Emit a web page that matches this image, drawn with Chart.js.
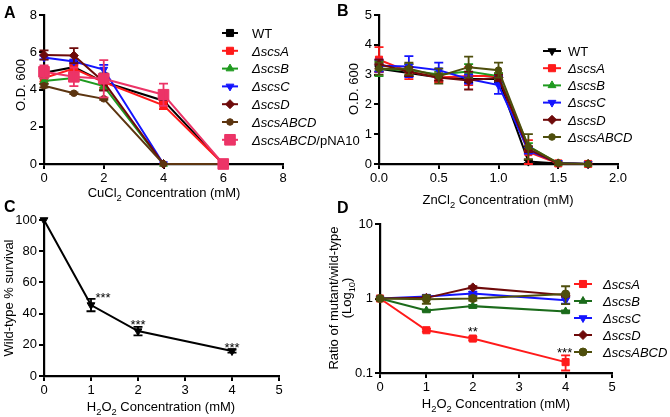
<!DOCTYPE html>
<html><head><meta charset="utf-8">
<script src="https://cdn.jsdelivr.net/npm/chart.js@4/dist/chart.umd.min.js"></script>
<style>
html,body{margin:0;padding:0;background:#fff;}
#wrap{position:relative;width:670px;height:417px;overflow:hidden;background:#fff;}
canvas{position:absolute;left:0;top:0;}
</style></head><body>
<div id="wrap">
<canvas id="cA" width="670" height="417"></canvas>
<canvas id="cB" width="670" height="417"></canvas>
<canvas id="cC" width="670" height="417"></canvas>
<canvas id="cD" width="670" height="417"></canvas>
</div>
<script>
const FONT = '"Liberation Sans", Arial, Helvetica, sans-serif';

// ---------- Panel A : CuCl2 ----------
const cuConc = [0, 1, 2, 4, 6];
const cuXTicks = [0, 2, 4, 6, 8];
const cuYTicks = [0, 2, 4, 6, 8];
const cuLabels = ['WT', 'ΔscsA', 'ΔscsB', 'ΔscsC', 'ΔscsD', 'ΔscsABCD', 'ΔscsABCD/pNA10'];
const cuWT      = [4.9, 5.2, 4.4, 3.4, 0];
const cuWTErr   = [0.2, 0.3, 0.45, 0.15, 0];
const cuA       = [4.62, 5.12, 4.4, 3.15, 0];
const cuAErr    = [0.2, 0.2, 0.3, 0.2, 0];
const cuB       = [4.45, 4.62, 4.18, 0, 0];
const cuBErr    = [0.15, 0.1, 0.2, 0, 0];
const cuC       = [5.72, 5.5, 5.07, 0, 0];
const cuCErr    = [0.1, 0.1, 0.25, 0, 0];
const cuD       = [5.85, 5.82, 4.4, 0, 0];
const cuDErr    = [0.25, 0.4, 0.45, 0, 0];
const cuABCD    = [4.2, 3.8, 3.5, 0, 0];
const cuABCDErr = [0.1, 0.05, 0.05, 0, 0];
const cuComp    = [4.95, 4.68, 4.58, 3.72, 0];
const cuCompErr = [0.35, 0.5, 1.0, 0.6, 0];

// ---------- Panel B : ZnCl2 ----------
const znConc = [0, 0.25, 0.5, 0.75, 1.0, 1.25, 1.5, 1.75];
const znXTicks = [0, 0.5, 1.0, 1.5, 2.0];
const znXTickLabels = ['0.0', '0.5', '1.0', '1.5', '2.0'];
const znYTicks = [0, 1, 2, 3, 4, 5];
const znLabels = ['WT', 'ΔscsA', 'ΔscsB', 'ΔscsC', 'ΔscsD', 'ΔscsABCD'];
const znWT      = [3.2, 3.05, 2.9, 2.85, 2.85, 0.08, 0.02, 0];
const znWTErr   = [0.1, 0.1, 0.1, 0.1, 0.1, 0.05, 0, 0];
const znA       = [3.5, 3.1, 2.9, 2.95, 2.95, 0.4, 0.02, 0];
const znAErr    = [0.42, 0.25, 0.15, 0.3, 0.1, 0.4, 0, 0];
const znB       = [3.2, 3.15, 3.0, 3.1, 2.95, 0.6, 0.02, 0];
const znBErr    = [0.25, 0.2, 0.1, 0.25, 0.1, 0.1, 0, 0];
const znC       = [3.3, 3.27, 3.15, 2.85, 2.65, 0.45, 0.04, 0];
const znCErr    = [0.2, 0.35, 0.25, 0.15, 0.3, 0.1, 0, 0];
const znD       = [3.35, 3.1, 2.9, 2.8, 2.9, 0.5, 0.02, 0];
const znDErr    = [0.15, 0.15, 0.1, 0.3, 0.1, 0.1, 0, 0];
const znABCD    = [3.2, 3.2, 2.95, 3.25, 3.15, 0.58, 0.03, 0];
const znABCDErr = [0.2, 0.2, 0.25, 0.35, 0.25, 0.42, 0, 0];

// ---------- Panel C : H2O2 WT survival ----------
const h2o2Conc = [0, 1, 2, 4];
const h2o2XTicks = [0, 1, 2, 3, 4, 5];
const survYTicks = [0, 20, 40, 60, 80, 100];
const survWT    = [100, 45.5, 28.8, 16];
const survWTErr = [0, 4, 2.7, 1];
const survStarX = [1, 2, 4];
const survStarText = ['***', '***', '***'];

// ---------- Panel D : ratio mutant / WT ----------
const ratioYTicks = [0.1, 1, 10];
const ratioYTickLabels = ['0.1', '1', '10'];
const ratioLabels = ['ΔscsA', 'ΔscsB', 'ΔscsC', 'ΔscsD', 'ΔscsABCD'];
const ratioA       = [1, 0.375, 0.29, 0.14];
const ratioAErr    = [0, 0.015, 0.015, 0.032];
const ratioB       = [1, 0.69, 0.79, 0.67];
const ratioBErr    = [0, 0.02, 0.03, 0.02];
const ratioC       = [1, 1.06, 1.17, 0.95];
const ratioCErr    = [0, 0.03, 0.06, 0.1];
const ratioD       = [1, 1.02, 1.41, 1.11];
const ratioDErr    = [0, 0.03, 0.05, 0.05];
const ratioABCD    = [1, 0.98, 1.0, 1.15];
const ratioABCDErr = [0, 0.13, 0.06, 0.31];
const ratioStarX = [2, 4];
const ratioStarText = ['**', '***'];

// ---------- helpers ----------
function pts(xs, ys) { return xs.map((x, i) => ({ x: x, y: ys[i] })); }

function ser(label, xs, ys, err, color, style, radius, rot, idx, n) {
  return {
    label: label, data: pts(xs, ys), err: err,
    borderColor: color, backgroundColor: color,
    pointBackgroundColor: color, pointBorderColor: color,
    pointStyle: style, pointRadius: radius, pointRotation: rot || 0,
    pointBorderWidth: 1, borderWidth: 2, tension: 0, clip: false,
    order: n - idx
  };
}

function drawMarker(ctx, style, r, rot, x, y, color) {
  ctx.save();
  ctx.fillStyle = color; ctx.strokeStyle = color; ctx.lineWidth = 1;
  ctx.translate(x, y);
  ctx.rotate((rot || 0) * Math.PI / 180);
  ctx.beginPath();
  if (style === 'rect') {
    const s = Math.SQRT1_2 * r; ctx.rect(-s, -s, 2 * s, 2 * s);
  } else if (style === 'rectRot') {
    ctx.moveTo(0, -r); ctx.lineTo(r, 0); ctx.lineTo(0, r); ctx.lineTo(-r, 0); ctx.closePath();
  } else if (style === 'triangle') {
    ctx.moveTo(0, -r); ctx.lineTo(r * 0.866, r * 0.5); ctx.lineTo(-r * 0.866, r * 0.5); ctx.closePath();
  } else {
    ctx.arc(0, 0, r, 0, Math.PI * 2);
  }
  ctx.fill(); ctx.stroke();
  ctx.restore();
}

function richFont(p, size) {
  const s = p.sub ? size * 0.72 : size;
  return (p.it ? 'italic ' : '') + (p.bold ? 'bold ' : '') + s + 'px ' + FONT;
}
function drawRich(ctx, parts, x, y, size, rot, align) {
  ctx.save();
  ctx.translate(x, y); ctx.rotate(rot || 0);
  ctx.fillStyle = '#000'; ctx.textBaseline = 'alphabetic'; ctx.textAlign = 'left';
  let w = 0;
  parts.forEach(p => { ctx.font = richFont(p, size); p._w = ctx.measureText(p.t).width; w += p._w; });
  let cx = align === 'center' ? -w / 2 : (align === 'right' ? -w : 0);
  parts.forEach(p => {
    ctx.font = richFont(p, size);
    ctx.fillText(p.t, cx, p.sub ? size * 0.3 : 0);
    cx += p._w;
  });
  ctx.restore();
}
function labelParts(label) {
  if (label.charAt(0) !== 'Δ') return [{ t: label }];
  const k = label.indexOf('/');
  if (k < 0) return [{ t: label, it: true }];
  return [{ t: label.slice(0, k), it: true }, { t: label.slice(k) }];
}

const errPlugin = {
  id: 'errbars',
  afterDatasetDraw(chart, args) {
    const ds = chart.data.datasets[args.index];
    if (!ds.err) return;
    const ctx = chart.ctx, xs = chart.scales.x, ys = chart.scales.y;
    ctx.save();
    ctx.strokeStyle = ds.borderColor; ctx.lineWidth = 1.8;
    ds.data.forEach((p, i) => {
      const e = ds.err[i]; if (!e) return;
      const px = xs.getPixelForValue(p.x);
      const y1 = ys.getPixelForValue(p.y - e), y2 = ys.getPixelForValue(p.y + e);
      ctx.beginPath();
      ctx.moveTo(px, y1); ctx.lineTo(px, y2);
      ctx.moveTo(px - 4.5, y1); ctx.lineTo(px + 4.5, y1);
      ctx.moveTo(px - 4.5, y2); ctx.lineTo(px + 4.5, y2);
      ctx.stroke();
    });
    ctx.restore();
  }
};

const decoPlugin = {
  id: 'deco',
  afterDraw(chart, args, o) {
    const ctx = chart.ctx;
    if (o.legend) {
      const L = o.legend;
      chart.data.datasets.forEach((ds, i) => {
        const y = L.y0 + i * L.dy;
        ctx.save();
        ctx.strokeStyle = ds.borderColor; ctx.lineWidth = 2;
        ctx.beginPath(); ctx.moveTo(L.x - L.half, y); ctx.lineTo(L.x + L.half, y); ctx.stroke();
        ctx.restore();
        drawMarker(ctx, ds.pointStyle, ds.pointRadius, ds.pointRotation, L.x, y, ds.borderColor);
        drawRich(ctx, labelParts(ds.label), L.textX, y + 4.7, L.size, 0, 'left');
      });
    }
    (o.titles || []).forEach(t => drawRich(ctx, t.parts, t.x, t.y, t.size, t.rot, t.align || 'center'));
    if (o.stars) {
      const S = o.stars;
      const ds = chart.data.datasets[S.series];
      const xs = chart.scales.x, ys = chart.scales.y;
      ctx.save();
      ctx.fillStyle = '#000'; ctx.font = S.size + 'px ' + FONT;
      ctx.textAlign = 'center'; ctx.textBaseline = 'alphabetic';
      S.xs.forEach((xv, k) => {
        const i = ds.data.findIndex(p => p.x === xv);
        const p = ds.data[i];
        const top = p.y + (ds.err ? ds.err[i] : 0);
        const px = xs.getPixelForValue(xv) + (S.dx[k] || 0);
        const py = ys.getPixelForValue(top) - S.gap[k] + S.size * 0.58;
        ctx.fillText(S.texts[k], px, py);
      });
      ctx.restore();
    }
  }
};

function axis(type, min, max, ticks, labels, fitSize, isX) {
  return {
    type: type, min: min, max: max,
    afterBuildTicks: s => { s.ticks = ticks.map(v => ({ value: v })); },
    afterFit: s => { if (isX) s.height = fitSize; else s.width = fitSize; },
    ticks: {
      color: '#000', font: { family: FONT, size: 13 }, padding: 2,
      maxRotation: 0, autoSkip: false,
      callback: (v, i) => labels ? labels[i] : String(v)
    },
    grid: { display: true, drawOnChartArea: false, drawTicks: true, tickLength: 5, color: '#000', lineWidth: 2 },
    border: { display: true, color: '#000', width: 2.2 }
  };
}

function baseOptions(pad, xAx, yAx, deco) {
  return {
    responsive: false, animation: false, devicePixelRatio: 1,
    layout: { padding: pad },
    scales: { x: xAx, y: yAx },
    plugins: { legend: { display: false }, tooltip: { enabled: false }, deco: deco }
  };
}

// colours
const BLACK = '#000000', RED = '#ff1a1a', GREEN = '#1f9a1f', BLUE = '#1414ff',
      DKRED = '#6e0a0a', BROWN = '#5c3510', PINK = '#ec3467', OLIVE = '#4e4e0c', DKGREEN = '#1b6b1b';
const TS = 13;

// ---------- Chart A ----------
(function () {
  const n = 7;
  const ds = [
    ser(cuLabels[0], cuConc, cuWT, cuWTErr, BLACK, 'rect', 5, 0, 0, n),
    ser(cuLabels[1], cuConc, cuA, cuAErr, RED, 'rect', 5, 0, 1, n),
    ser(cuLabels[2], cuConc, cuB, cuBErr, GREEN, 'triangle', 4.5, 0, 2, n),
    ser(cuLabels[3], cuConc, cuC, cuCErr, BLUE, 'triangle', 4.5, 180, 3, n),
    ser(cuLabels[4], cuConc, cuD, cuDErr, DKRED, 'rectRot', 4.5, 0, 4, n),
    ser(cuLabels[5], cuConc, cuABCD, cuABCDErr, BROWN, 'circle', 3.3, 0, 5, n),
    ser(cuLabels[6], cuConc, cuComp, cuCompErr, PINK, 'rect', 7.5, 0, 6, n)
  ];
  new Chart(document.getElementById('cA'), {
    type: 'line', data: { datasets: ds },
    plugins: [errPlugin, decoPlugin],
    options: baseOptions({ left: 0, top: 15, right: 670 - 283, bottom: 417 - 164 - 30 },
      axis('linear', 0, 8, cuXTicks, null, 30, true),
      axis('linear', 0, 8, cuYTicks, null, 44, false),
      {
        legend: { x: 230, half: 8, y0: 33, dy: 17.8, textX: 252, size: 13 },
        titles: [
          { parts: [{ t: 'A', bold: true }], x: 4, y: 18, size: 16, rot: 0, align: 'left' },
          { parts: [{ t: 'O.D. 600' }], x: 25, y: 85, size: TS, rot: -Math.PI / 2 },
          { parts: [{ t: 'CuCl' }, { t: '2', sub: true }, { t: ' Concentration (mM)' }], x: 164, y: 197, size: TS, rot: 0 }
        ]
      })
  });
})();

// ---------- Chart B ----------
(function () {
  const n = 6;
  const ds = [
    ser(znLabels[0], znConc, znWT, znWTErr, BLACK, 'triangle', 4.5, 180, 0, n),
    ser(znLabels[1], znConc, znA, znAErr, RED, 'rect', 5, 0, 1, n),
    ser(znLabels[2], znConc, znB, znBErr, GREEN, 'triangle', 4.5, 0, 2, n),
    ser(znLabels[3], znConc, znC, znCErr, BLUE, 'triangle', 4.5, 180, 3, n),
    ser(znLabels[4], znConc, znD, znDErr, DKRED, 'rectRot', 4.5, 0, 4, n),
    ser(znLabels[5], znConc, znABCD, znABCDErr, OLIVE, 'circle', 3.3, 0, 5, n)
  ];
  new Chart(document.getElementById('cB'), {
    type: 'line', data: { datasets: ds },
    plugins: [errPlugin, decoPlugin],
    options: baseOptions({ left: 0, top: 15, right: 670 - 618, bottom: 417 - 164 - 30 },
      axis('linear', 0, 2, znXTicks, znXTickLabels, 30, true),
      axis('linear', 0, 5, znYTicks, null, 379, false),
      {
        legend: { x: 552, half: 9, y0: 51, dy: 17.2, textX: 568, size: 13 },
        titles: [
          { parts: [{ t: 'B', bold: true }], x: 337, y: 16, size: 16, rot: 0, align: 'left' },
          { parts: [{ t: 'O.D. 600' }], x: 358, y: 89, size: TS, rot: -Math.PI / 2 },
          { parts: [{ t: 'ZnCl' }, { t: '2', sub: true }, { t: ' Concentration (mM)' }], x: 498, y: 204, size: TS, rot: 0 }
        ]
      })
  });
})();

// ---------- Chart C ----------
(function () {
  const ds = [ser('WT', h2o2Conc, survWT, survWTErr, BLACK, 'triangle', 4.5, 180, 0, 1)];
  new Chart(document.getElementById('cC'), {
    type: 'line', data: { datasets: ds },
    plugins: [errPlugin, decoPlugin],
    options: baseOptions({ left: 0, top: 220, right: 670 - 279, bottom: 417 - 376 - 30 },
      axis('linear', 0, 5, h2o2XTicks, null, 30, true),
      axis('linear', 0, 100, survYTicks, null, 44, false),
      {
        titles: [
          { parts: [{ t: 'C', bold: true }], x: 4, y: 212, size: 16, rot: 0, align: 'left' },
          { parts: [{ t: 'Wild-type % survival' }], x: 13, y: 298, size: TS, rot: -Math.PI / 2 },
          { parts: [{ t: 'H' }, { t: '2', sub: true }, { t: 'O' }, { t: '2', sub: true }, { t: ' Concentration (mM)' }], x: 161, y: 411, size: TS, rot: 0 }
        ],
        stars: { series: 0, xs: survStarX, texts: survStarText, dx: [12, 0, 0], gap: [4, 5, 5], size: 13 }
      })
  });
})();

// ---------- Chart D ----------
(function () {
  const n = 5;
  const ds = [
    ser(ratioLabels[0], h2o2Conc, ratioA, ratioAErr, RED, 'rect', 5, 0, 0, n),
    ser(ratioLabels[1], h2o2Conc, ratioB, ratioBErr, DKGREEN, 'triangle', 4.5, 0, 1, n),
    ser(ratioLabels[2], h2o2Conc, ratioC, ratioCErr, BLUE, 'triangle', 4.5, 180, 2, n),
    ser(ratioLabels[3], h2o2Conc, ratioD, ratioDErr, DKRED, 'rectRot', 4.5, 0, 3, n),
    ser(ratioLabels[4], h2o2Conc, ratioABCD, ratioABCDErr, OLIVE, 'circle', 4, 0, 4, n)
  ];
  new Chart(document.getElementById('cD'), {
    type: 'line', data: { datasets: ds },
    plugins: [errPlugin, decoPlugin],
    options: baseOptions({ left: 0, top: 224, right: 670 - 612, bottom: 417 - 373 - 30 },
      axis('linear', 0, 5, h2o2XTicks, null, 30, true),
      axis('logarithmic', 0.1, 10, ratioYTicks, ratioYTickLabels, 380, false),
      {
        legend: { x: 583, half: 9, y0: 284, dy: 17, textX: 603, size: 13 },
        titles: [
          { parts: [{ t: 'D', bold: true }], x: 337, y: 213, size: 16, rot: 0, align: 'left' },
          { parts: [{ t: 'Ratio of mutant/wild-type' }], x: 338, y: 298, size: TS, rot: -Math.PI / 2 },
          { parts: [{ t: '(Log' }, { t: '10', sub: true }, { t: ')' }], x: 351, y: 298, size: TS, rot: -Math.PI / 2 },
          { parts: [{ t: 'H' }, { t: '2', sub: true }, { t: 'O' }, { t: '2', sub: true }, { t: ' Concentration (mM)' }], x: 496, y: 408, size: TS, rot: 0 }
        ],
        stars: { series: 0, xs: ratioStarX, texts: ratioStarText, dx: [0, -1], gap: [8, 5.5], size: 13 }
      })
  });
})();
</script>
</body></html>
